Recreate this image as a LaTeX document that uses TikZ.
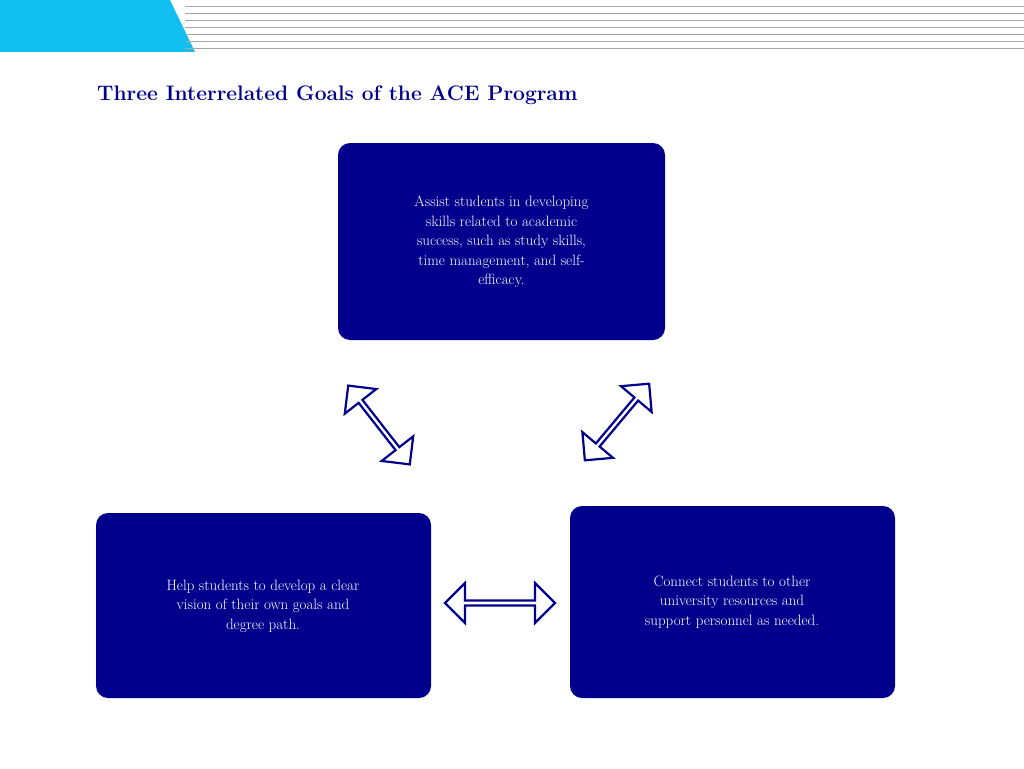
\documentclass[tikz,border=0pt]{standalone}
\usetikzlibrary{shapes.arrows}
\definecolor{navy}{RGB}{0,0,140}
\definecolor{cyanhead}{RGB}{16,190,240}
\begin{document}
\begin{tikzpicture}[x=1pt,y=-1pt,
  goal/.style={fill=navy,rounded corners=12pt,text=white,align=center,font=\fontsize{15}{19.5}\selectfont},
  dbl/.style={double arrow,draw=navy,line width=2.2pt,fill=white,minimum width=40pt,double arrow head extend=8pt,inner sep=0pt}]
\useasboundingbox (0,0) rectangle (1024,768);
\fill[cyanhead] (0,0) -- (170,0) -- (195,52) -- (0,52) -- cycle;
\foreach \y in {6,13,20,27,34,41,48}
  \draw[gray!70,line width=0.8pt] (185,\y) -- (1024,\y);
\node[anchor=base west,text=navy,font=\fontsize{21}{24}\selectfont\bfseries,inner sep=0] (title) at (97,100) {Three Interrelated Goals of the ACE Program};
\path[goal] (338,143) rectangle (665,340);
\node[text=white,align=center,font=\fontsize{15}{19.5}\selectfont] (top) at (501.5,242) {Assist students in developing\\skills related to academic\\success, such as study skills,\\time management, and self-\\efficacy.};
\path[goal] (96,513) rectangle (431,698);
\node[text=white,align=center,font=\fontsize{15}{19.5}\selectfont] (left) at (263,606) {Help students to develop a clear\\vision of their own goals and\\degree path.};
\path[goal] (570,506) rectangle (895,698);
\node[text=white,align=center,font=\fontsize{15}{19.5}\selectfont] (right) at (732,602) {Connect students to other\\university resources and\\support personnel as needed.};
\node[dbl,minimum height=100pt,rotate=-52] (a1) at (379,425) {};
\node[dbl,minimum height=100pt,rotate=50] (a2) at (617,422) {};
\node[dbl,minimum height=110pt] (a3) at (500,603) {};
\end{tikzpicture}
\end{document}
